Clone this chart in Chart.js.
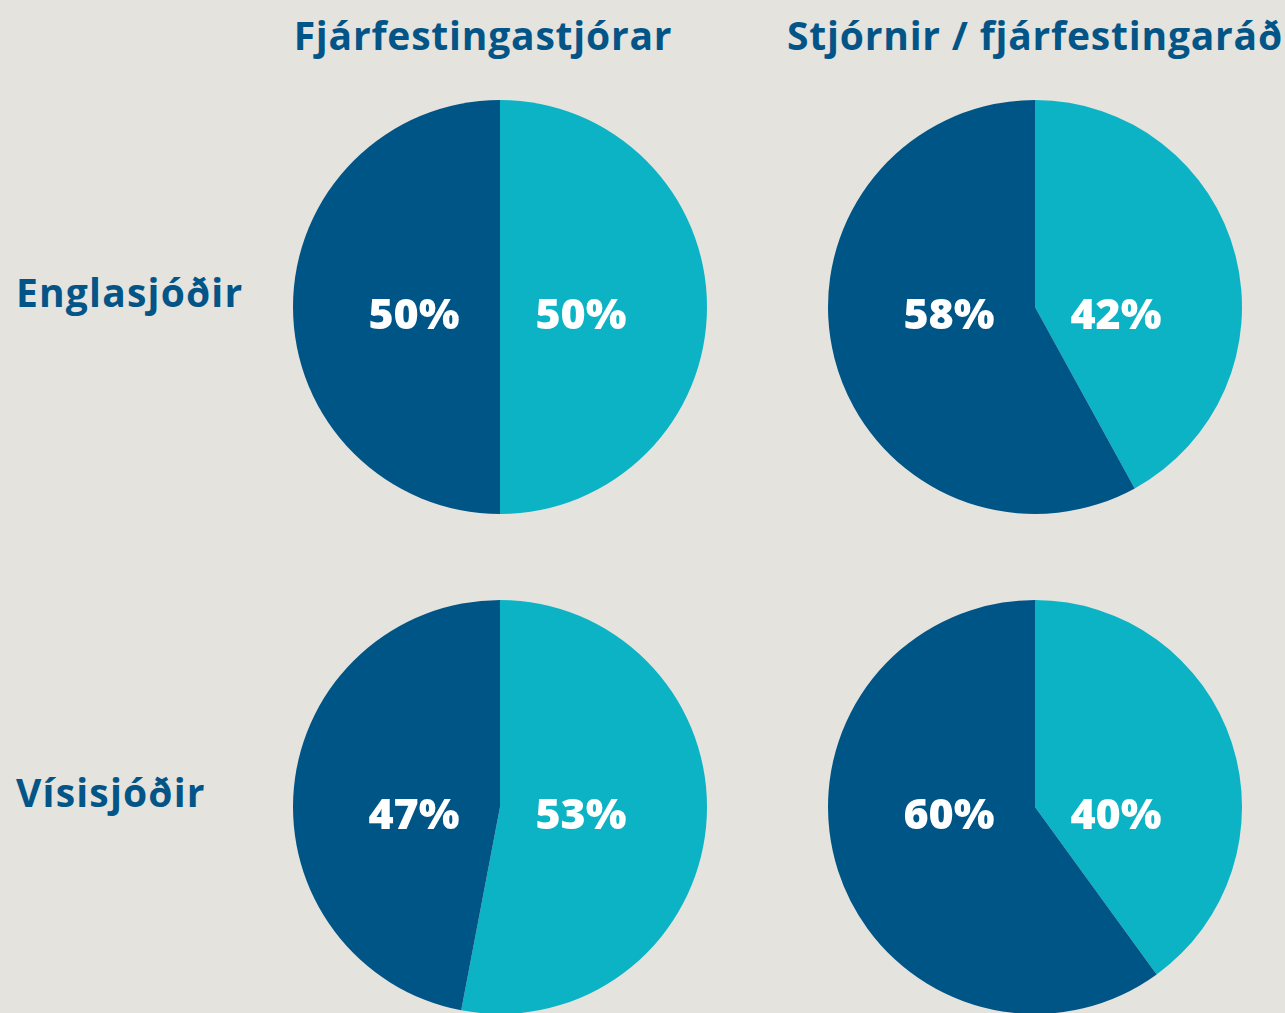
<!DOCTYPE html>
<html lang="is">
<head>
    <meta charset="UTF-8">
    <title>Fjárfestingastjórar og stjórnir</title>
    <script src="https://cdn.jsdelivr.net/npm/chart.js"></script>
    <style>
        html, body {
            margin: 0;
            padding: 0;
            background-color: #e4e3de;
            width: 1285px;
            height: 1013px;
            overflow: hidden;
            font-family: "Open Sans", sans-serif;
        }
        .wrap {
            position: relative;
            width: 1285px;
            height: 1013px;
        }
        .title, .rowlabel {
            position: absolute;
            color: #035587;
            font-weight: 700;
            font-size: 39px;
            white-space: nowrap;
            line-height: 1;
        }
        .title {
            top: 15px;
            letter-spacing: 0.8px;
            transform: translateX(-50%);
        }
        .rowlabel {
            left: 16px;
            letter-spacing: 1.2px;
        }
        .pie {
            position: absolute;
            width: 420px;
            height: 420px;
        }
    </style>
</head>
<body>
<div class="wrap" id="wrap">
    <div class="title" style="left: 483px;">Fjárfestingastjórar</div>
    <div class="title" style="left: 1035px;">Stjórnir / fjárfestingaráð</div>
    <div class="rowlabel" style="top: 272px;">Englasjóðir</div>
    <div class="rowlabel" style="top: 772px;">Vísisjóðir</div>
</div>

<script>
    // flokkar og gildi (%) — fyrsta sneiðin er ljósblá, byrjar efst og fer réttsælis
    const columns = ['Fjárfestingastjórar', 'Stjórnir / fjárfestingaráð'];
    const rows = ['Englasjóðir', 'Vísisjóðir'];
    const englaValues = [[50, 50], [42, 58]];
    const visiValues = [[53, 47], [40, 60]];
    const sliceColors = ['#0cb3c4', '#005587'];

    const centers = [
        { x: 500, y: 307, data: englaValues[0] },
        { x: 1035, y: 307, data: englaValues[1] },
        { x: 500, y: 807, data: visiValues[0] },
        { x: 1035, y: 807, data: visiValues[1] }
    ];

    // prósentur skrifaðar hvor sínum megin við miðju
    const pctLabels = {
        id: 'pctLabels',
        afterDatasetsDraw(chart) {
            const ctx = chart.ctx;
            const meta = chart.getDatasetMeta(0);
            const vals = chart.data.datasets[0].data;
            ctx.save();
            ctx.fillStyle = '#ffffff';
            ctx.font = '800 43px "Open Sans", sans-serif';
            ctx.textAlign = 'center';
            ctx.textBaseline = 'middle';
            meta.data.forEach((arc, i) => {
                const x = arc.x + (i === 0 ? 81 : -86);
                ctx.fillText(vals[i] + '%', x, arc.y + 10);
            });
            ctx.restore();
        }
    };

    const wrap = document.getElementById('wrap');
    centers.forEach(c => {
        const canvas = document.createElement('canvas');
        canvas.className = 'pie';
        canvas.style.left = (c.x - 210) + 'px';
        canvas.style.top = (c.y - 210) + 'px';
        wrap.appendChild(canvas);
        new Chart(canvas, {
            type: 'pie',
            data: {
                labels: ['a', 'b'],
                datasets: [{
                    data: c.data,
                    backgroundColor: sliceColors,
                    borderWidth: 0
                }]
            },
            options: {
                responsive: false,
                animation: false,
                layout: { padding: 3 },
                plugins: {
                    legend: { display: false },
                    tooltip: { enabled: false }
                }
            },
            plugins: [pctLabels]
        });
    });
</script>
</body>
</html>
